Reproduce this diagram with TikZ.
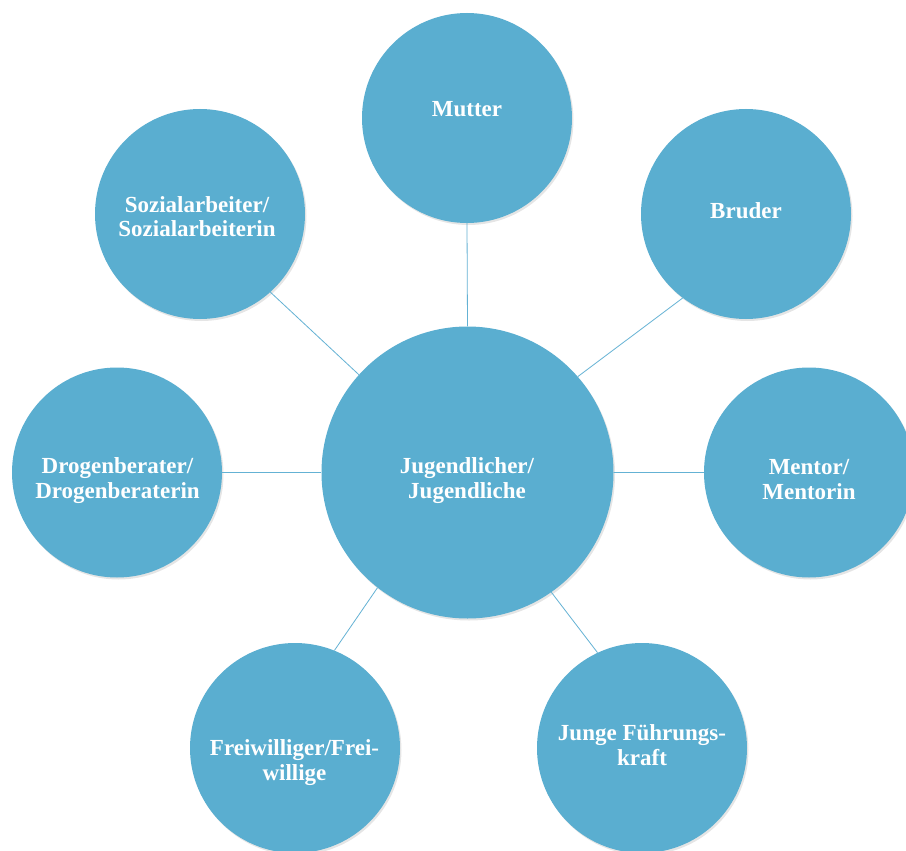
\documentclass[tikz,border=0pt]{standalone}
\usepackage{fontspec}
\setmainfont{Liberation Serif}
\usetikzlibrary{shadows}
\definecolor{bubblefill}{RGB}{90,174,208}
\definecolor{linkcol}{RGB}{100,178,212}
\tikzset{
  bubble/.style={circle, fill=bubblefill, draw=none, minimum size=210pt, inner sep=0pt,
    drop shadow={shadow xshift=1.5pt, shadow yshift=-2pt, opacity=0.10, fill=black}},
  hub/.style={bubble, minimum size=292pt},
  label/.style={text=white, align=center, anchor=base, inner sep=0pt,
    font=\fontsize{23}{24.5}\selectfont\bfseries},
  conn/.style={draw=linkcol, line width=0.8pt}
}
\begin{document}
\begin{tikzpicture}[x=1pt,y=-1pt]
\useasboundingbox[fill=white] (0,0) rectangle (906,851);
% circles
\node[hub]    (c)   at (467.5,472.5) {};
\node[bubble] (mu)  at (467,118) {};
\node[bubble] (br)  at (746,214) {};
\node[bubble] (so)  at (200,214) {};
\node[bubble] (dr)  at (117,472.5) {};
\node[bubble] (me)  at (809,472.5) {};
\node[bubble] (fr)  at (295,748) {};
\node[bubble] (ju)  at (642,748) {};
% connectors
\draw[conn] (c.90) -- (mu.270);
\draw[conn] (c.41.7) -- (br.233);
\draw[conn] (c.138.6) -- (so.312.7);
\draw[conn] (c.180) -- (dr.0);
\draw[conn] (c.0) -- (me.180);
\draw[conn] (c.232) -- (fr.68.5);
\draw[conn] (c.305.4) -- (ju.115.4);
% texts (anchor = baseline of last line)
\node[label] (tc)  at (467,498) {Jugendlicher/\\Jugendliche};
\node[label] (tmu) at (467,116.5) {Mutter};
\node[label] (tbr) at (746,218.3) {Bruder};
\node[label] (tso) at (197,236.7) {Sozialarbeiter/\\Sozialarbeiterin};
\node[label] (tdr) at (117.5,498.3) {Drogenberater/\\Drogenberaterin};
\node[label] (tme) at (809,499) {Mentor/\\Mentorin};
\node[label] (tfr) at (294.5,780) {Freiwilliger/Frei-\\willige};
\node[label] (tju) at (642,765) {Junge Führungs-\\kraft};
\end{tikzpicture}
\end{document}
